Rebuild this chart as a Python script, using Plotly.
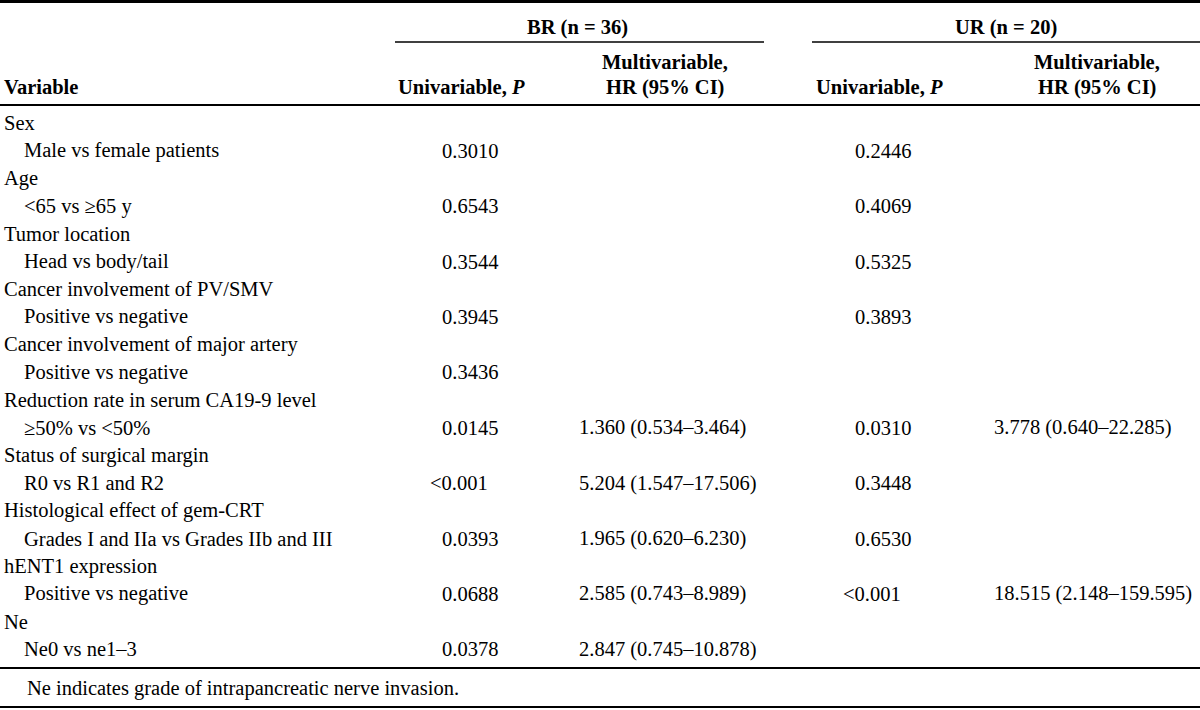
import plotly.graph_objects as go

# table content
variables = [
    "Sex",
    "Age",
    "Tumor location",
    "Cancer involvement of PV/SMV",
    "Cancer involvement of major artery",
    "Reduction rate in serum CA19-9 level",
    "Status of surgical margin",
    "Histological effect of gem-CRT",
    "hENT1 expression",
    "Ne",
]
comparisons = [
    "Male vs female patients",
    "<65 vs ≥65 y",
    "Head vs body/tail",
    "Positive vs negative",
    "Positive vs negative",
    "≥50% vs <50%",
    "R0 vs R1 and R2",
    "Grades I and IIa vs Grades IIb and III",
    "Positive vs negative",
    "Ne0 vs ne1–3",
]
br_uni = ["0.3010", "0.6543", "0.3544", "0.3945", "0.3436",
          "0.0145", "<0.001", "0.0393", "0.0688", "0.0378"]
br_multi = ["", "", "", "", "",
            "1.360 (0.534–3.464)", "5.204 (1.547–17.506)", "1.965 (0.620–6.230)",
            "2.585 (0.743–8.989)", "2.847 (0.745–10.878)"]
ur_uni = ["0.2446", "0.4069", "0.5325", "0.3893", "",
          "0.0310", "0.3448", "0.6530", "<0.001", ""]
ur_multi = ["", "", "", "", "",
            "3.778 (0.640–22.285)", "", "", "18.515 (2.148–159.595)", ""]
groups = ["BR (n = 36)", "UR (n = 20)"]
footnote = "Ne indicates grade of intrapancreatic nerve invasion."

FONT = "Liberation Serif"
FS = 20.5
W, H = 1200, 710

fig = go.Figure()
annots = []


def txt(x, y, s, anchor="left", bold=False):
    if bold:
        s = "<b>" + s + "</b>"
    annots.append(dict(x=x, y=y, text=s, xref="x", yref="y", showarrow=False,
                       xanchor=anchor, yanchor="middle",
                       font=dict(family=FONT, size=FS, color="black")))


# header
txt(577, 27, groups[0], "center", True)
txt(1006, 27, groups[1], "center", True)
txt(2, 87, "Variable", bold=True)
txt(461, 87, "Univariable, <i>P</i>", "center", True)
txt(665, 62, "Multivariable,", "center", True)
txt(665, 87, "HR (95% CI)", "center", True)
txt(879, 87, "Univariable, <i>P</i>", "center", True)
txt(1097, 62, "Multivariable,", "center", True)
txt(1097, 87, "HR (95% CI)", "center", True)

# body
y0, step = 123, 27.7
for i in range(len(variables)):
    ya = y0 + 2 * i * step
    yb = ya + step
    txt(2, ya, variables[i])
    txt(22, yb, comparisons[i])
    if br_uni[i]:
        txt(440 - (12 if br_uni[i].startswith("<") else 0), yb, br_uni[i])
    if br_multi[i]:
        txt(577, yb, br_multi[i])
    if ur_uni[i]:
        txt(853 - (12 if ur_uni[i].startswith("<") else 0), yb, ur_uni[i])
    if ur_multi[i]:
        txt(992, yb, ur_multi[i])

txt(25, 688, footnote)

shapes = [
    dict(type="line", x0=0, x1=W, y0=1.5, y1=1.5, line=dict(color="black", width=3)),
    dict(type="line", x0=395, x1=764, y0=42, y1=42, line=dict(color="black", width=1.5)),
    dict(type="line", x0=812, x1=W, y0=42, y1=42, line=dict(color="black", width=1.5)),
    dict(type="line", x0=0, x1=W, y0=105, y1=105, line=dict(color="black", width=2)),
    dict(type="line", x0=0, x1=W, y0=668, y1=668, line=dict(color="black", width=2)),
    dict(type="line", x0=0, x1=W, y0=707, y1=707, line=dict(color="black", width=2)),
]
for s in shapes:
    s.update(xref="x", yref="y")

fig.update_layout(
    width=W, height=H,
    margin=dict(l=0, r=0, t=0, b=0),
    paper_bgcolor="white", plot_bgcolor="white",
    xaxis=dict(range=[0, W], visible=False, fixedrange=True),
    yaxis=dict(range=[H, 0], visible=False, fixedrange=True),
    annotations=annots, shapes=shapes,
    showlegend=False,
)

# page body has a default 8px margin; drop it so the table sits at 0,0
fig.write_html("out.html", config={"displayModeBar": False},
               post_script="document.body.style.margin='0';")
